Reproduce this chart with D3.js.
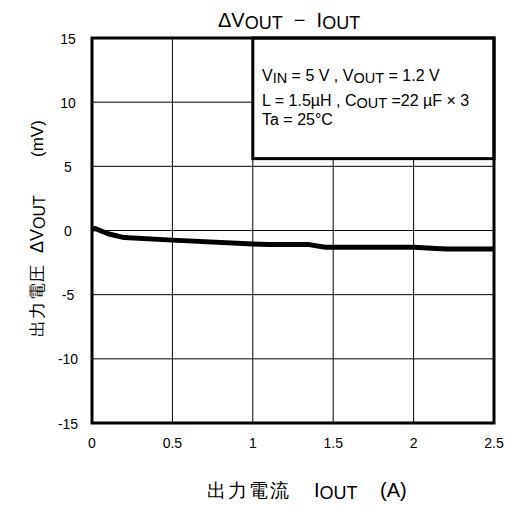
<!DOCTYPE html>
<html><head><meta charset="utf-8">
<script src="https://cdn.jsdelivr.net/npm/d3@7"></script>
<style>body{margin:0;background:#fff}svg{display:block}text{font-family:"Liberation Sans",Arial,sans-serif;fill:#000;white-space:pre}</style>
</head><body>
<script>
const iout = [0, 0.02, 0.05, 0.1, 0.2, 0.5, 1.0, 1.1, 1.35, 1.45, 2.0, 2.2, 2.5];
const dvout = [0.1, 0.15, 0.0, -0.25, -0.55, -0.75, -1.05, -1.1, -1.1, -1.3, -1.3, -1.45, -1.45];
const xTicks = [0, 0.5, 1, 1.5, 2, 2.5];
const yTicks = [15, 10, 5, 0, -5, -10, -15];

const W = 508, H = 507;
const m = {l: 92, r: 494, t: 38, b: 423};
const svg = d3.select("body").append("svg").attr("width", W).attr("height", H);
const x = d3.scaleLinear().domain([0, 2.5]).range([m.l, m.r]);
const y = d3.scaleLinear().domain([-15, 15]).range([m.b, m.t]);

// grid
svg.append("g").selectAll("line").data(xTicks).join("line")
  .attr("x1", d => x(d)).attr("x2", d => x(d)).attr("y1", m.t).attr("y2", m.b)
  .attr("stroke", "#000").attr("stroke-width", 1);
svg.append("g").selectAll("line").data(yTicks).join("line")
  .attr("y1", d => y(d)).attr("y2", d => y(d)).attr("x1", m.l).attr("x2", m.r)
  .attr("stroke", "#000").attr("stroke-width", 1);

// legend box
const lg = svg.append("g");
lg.append("rect").attr("x", x(1.0)).attr("y", y(15)).attr("width", x(2.5) - x(1.0)).attr("height", y(5.6) - y(15))
  .attr("fill", "#fff").attr("stroke", "#000").attr("stroke-width", 3);
function rich(g, xx, yy, parts, size, sub, shift) {
  const t = g.append("text").attr("x", xx).attr("y", yy).attr("font-size", size);
  let down = false;
  parts.forEach(p => {
    const s = t.append("tspan").text(p[0]);
    if (p[1]) { s.attr("font-size", sub); if (!down) { s.attr("dy", shift); down = true; } }
    else if (down) { s.attr("dy", -shift); down = false; }
  });
  return t;
}
rich(lg, 262, 81, [["V"], ["IN", 1], [" = 5 V , V"], ["OUT", 1], [" = 1.2 V"]], 16, 14.5, 2);
rich(lg, 262, 106, [["L = 1.5\u00b5H , C"], ["OUT", 1], [" =22 \u00b5F \u00d7 3"]], 16, 14.5, 2);
rich(lg, 262, 125, [["Ta = 25\u00b0C"]], 16, 14.5, 2);

// frame
svg.append("rect").attr("x", m.l).attr("y", m.t).attr("width", m.r - m.l).attr("height", m.b - m.t)
  .attr("fill", "none").attr("stroke", "#000").attr("stroke-width", 3);

// data line
const line = d3.line().x((d, i) => x(iout[i])).y(d => y(d));
svg.append("path").datum(dvout).attr("d", line).attr("fill", "none")
  .attr("stroke", "#000").attr("stroke-width", 5).attr("stroke-linejoin", "round");

// tick labels
svg.append("g").selectAll("text").data(xTicks).join("text")
  .attr("x", d => x(d)).attr("y", 448).attr("text-anchor", "middle").attr("font-size", 14).text(d => d);
svg.append("g").selectAll("text").data(yTicks).join("text")
  .attr("x", 68).attr("y", d => y(d) + 5.5).attr("text-anchor", "middle").attr("font-size", 14).text(d => d);

// title
rich(svg, 218, 27, [["\u0394V"], ["OUT", 1], ["  \u2212  I"], ["OUT", 1]], 20, 18, 2);

// x label
const cjk = "'Noto Sans CJK JP','Noto Sans CJK SC',sans-serif";
svg.append("text").attr("x", 207).attr("y", 497).attr("font-size", 19).attr("font-family", cjk)
  .attr("letter-spacing", 2).text("出力電流");
rich(svg, 314, 497, [["I"], ["OUT", 1]], 20, 18, 2);
svg.append("text").attr("x", 380).attr("y", 497).attr("font-size", 20).text("(A)");

// y label
const yl = svg.append("g").attr("transform", "translate(43,0) rotate(-90)");
yl.append("text").attr("x", -337).attr("y", 0).attr("font-size", 16.5).attr("font-family", cjk)
  .attr("letter-spacing", 1.5).text("出力電圧");
rich(yl, -253, 0, [["\u0394V"], ["OUT", 1]], 18, 16, 2);
yl.append("text").attr("x", -157).attr("y", 0).attr("font-size", 17).text("(mV)");
</script>
</body></html>
